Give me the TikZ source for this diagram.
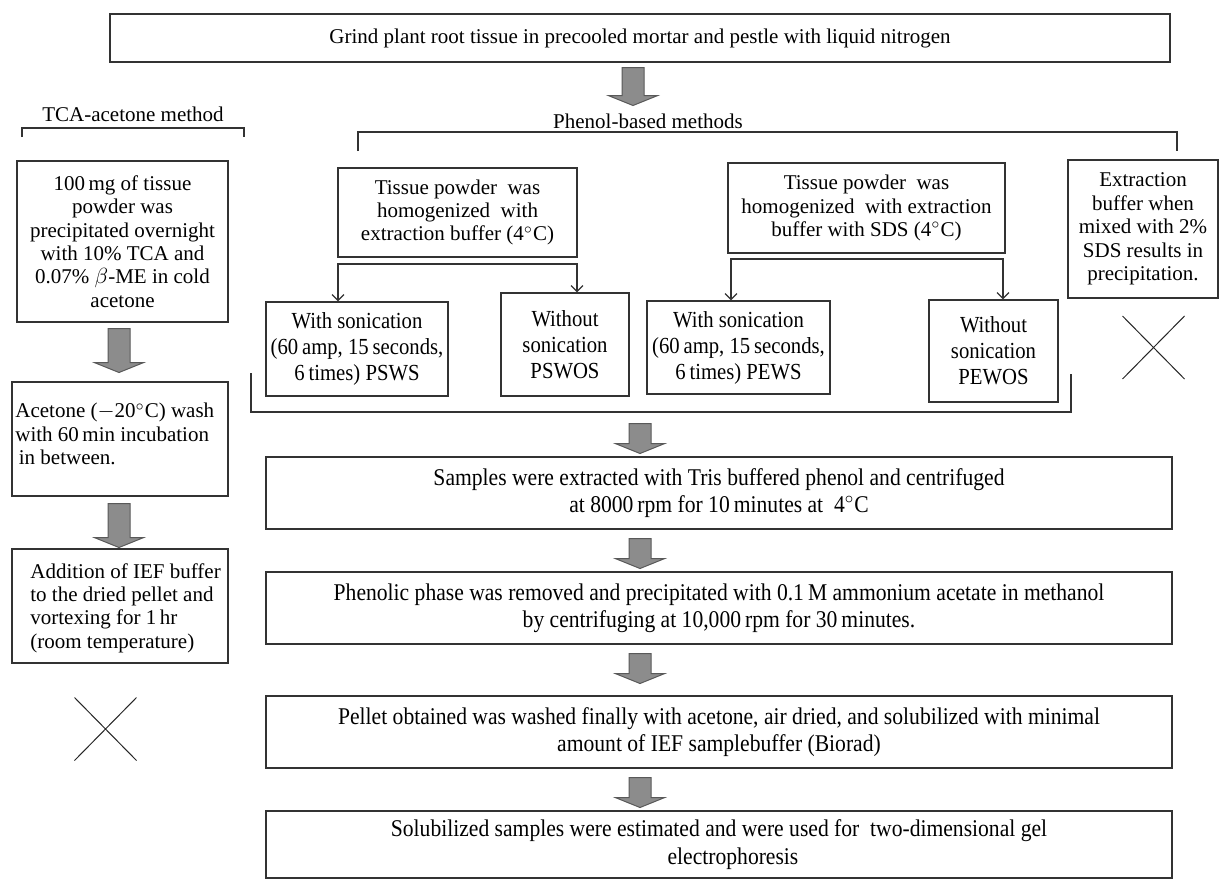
\documentclass[tikz,border=0pt]{standalone}
\usepackage{fontspec}
\setmainfont{Liberation Serif}
\newfontfamily\narrowfont[FakeStretch=0.9]{Liberation Serif}
\usetikzlibrary{arrows.meta,shapes.arrows,shapes.misc}
\tikzstyle{box} = [draw=black!80, line width=0.6pt, inner sep=0pt]
\tikzstyle{txt} = [align=center, inner sep=0pt, font=\fontsize{10.5}{11.7}\selectfont]
\tikzstyle{stxt} = [align=center, inner sep=0pt, font=\fontsize{11.5}{13}\narrowfont]
\tikzstyle{ntxt} = [align=center, inner sep=0pt, font=\fontsize{12}{13.6}\narrowfont]
\tikzstyle{garrow} = [single arrow, draw=black!65, fill=black!45, line width=0.5pt, inner xsep=0pt, inner ysep=5.25pt, single arrow head extend=6.75pt, single arrow tip angle=136, rotate=-90, anchor=tail]
\tikzstyle{brk} = [draw=black!80, line width=0.6pt]
\tikzstyle{split} = [draw=black!80, line width=0.6pt, {Straight Barb[length=3pt,width=6pt]}-{Straight Barb[length=3pt,width=6pt]}]
\tikzstyle{nogo} = [draw=black!85, line width=0.5pt, cross out, minimum width=30.5pt, minimum height=31pt, inner sep=0pt]

\begin{document}
\begin{tikzpicture}[x=0.5pt,y=-0.5pt]
\useasboundingbox (0,0) rectangle (1220,880);

\node[box, txt, minimum width=530pt, minimum height=24pt] (grind) at (640,38) {Grind plant root tissue in precooled mortar and pestle with liquid nitrogen};
\node[garrow, minimum height=19pt] (ar0) at (633,67) {};

% TCA side
\node[txt] (tca-lbl) at (133,114) {TCA-acetone method};
\draw[brk] (22,137) -- (22,128) -- (244,128) -- (244,137);
\node[box, txt, minimum width=105.5pt, minimum height=80.5pt] (tca) at (122.5,241.5) {100\,mg of tissue\\ powder was\\ precipitated overnight\\ with 10\% TCA and\\ 0.07\% $\beta$-ME in cold\\ acetone};
\node[garrow, minimum height=22pt] (arl1) at (119,328) {};
\node[box, minimum width=108pt, minimum height=57pt] (wash) at (120,439) {};
\node[txt, align=left, anchor=north west] (wash-t) at (15,403) {Acetone ($-$20$^\circ$C) wash\\ with 60\,min incubation\\ \,in between.};
\node[garrow, minimum height=22pt] (arl2) at (119,503) {};
\node[box, minimum width=108pt, minimum height=57pt] (ief) at (120,606) {};
\node[txt, align=left, anchor=west] (ief-t) at (30,608) {Addition of IEF buffer\\ to the dried pellet and\\ vortexing for 1\,hr\\ (room temperature)};
\node[nogo] (nogo-l) at (105.5,729) {};

% phenol side
\node[txt] (phen-lbl) at (648,121) {Phenol-based methods};
\draw[brk] (358,151) -- (358,132) -- (1177,132) -- (1177,151);
\node[box, txt, minimum width=119.5pt, minimum height=44.5pt] (homog) at (457.5,212.5) {Tissue powder\ \ was\\ homogenized\ \ with\\ extraction buffer (4$^\circ$C)};
\node[box, txt, minimum width=138.5pt, minimum height=45pt] (homsds) at (866.5,208) {Tissue powder\ \ was\\ homogenized\ \ with extraction\\ buffer with SDS (4$^\circ$C)};
\node[box, txt, minimum width=75pt, minimum height=69pt] (sdsppt) at (1143,229) {Extraction\\ buffer when\\ mixed with 2\%\\ SDS results in\\ precipitation.};

\node[box, stxt, minimum width=91pt, minimum height=47pt] (psws) at (357,349) {With sonication\\ (60\,amp, 15\,seconds,\\ 6\,times) PSWS};
\node[box, stxt, minimum width=64pt, minimum height=51.5pt] (pswos) at (565,344.5) {Without\\ sonication\\ PSWOS};
\node[box, stxt, minimum width=91.5pt, minimum height=46.5pt] (pews) at (738.5,347.5) {With sonication\\ (60\,amp, 15\,seconds,\\ 6\,times) PEWS};
\node[box, stxt, minimum width=64.5pt, minimum height=51pt] (pewos) at (993.5,351) {Without\\ sonication\\ PEWOS};
\node[nogo] (nogo-r) at (1153.5,347.5) {};

\coordinate (sal) at (338,264);
\coordinate (sar) at (577,264);
\coordinate (sbl) at (731,259);
\coordinate (sbr) at (1003,259);
\draw[split] (psws.north -| sal) -- (sal) -- (sar) -- (pswos.north -| sar);
\draw[split] (pews.north -| sbl) -- (sbl) -- (sbr) -- (pewos.north -| sbr);

\draw[brk] (251,373) -- (251,412) -- (1071,412) -- (1071,374);

% common steps
\foreach \y [count=\n] in {423,538,653,777}
  \node[garrow, minimum height=15pt] (ar\n) at (640,\y) {};

\node[box, ntxt, minimum width=453pt, minimum height=36pt] (tris) at (719,493) {Samples were extracted with Tris buffered phenol and centrifuged\\ at 8000\,rpm for 10\,minutes at\ \ 4$^\circ$C};
\node[box, ntxt, minimum width=453pt, minimum height=36pt] (phenolic) at (719,608) {Phenolic phase was removed and precipitated with 0.1\,M ammonium acetate in methanol\\ by centrifuging at 10,000\,rpm for 30\,minutes.};
\node[box, ntxt, minimum width=453pt, minimum height=36pt] (pellet) at (719,732) {Pellet obtained was washed finally with acetone, air dried, and solubilized with minimal\\ amount of IEF samplebuffer (Biorad)\hspace{52pt}};
\node[box, ntxt, minimum width=453pt, minimum height=33.5pt] (solub) at (719,844.5) {Solubilized samples were estimated and were used for\ \ two-dimensional gel\\ \hspace*{14pt}electrophoresis};
\end{tikzpicture}
\end{document}
